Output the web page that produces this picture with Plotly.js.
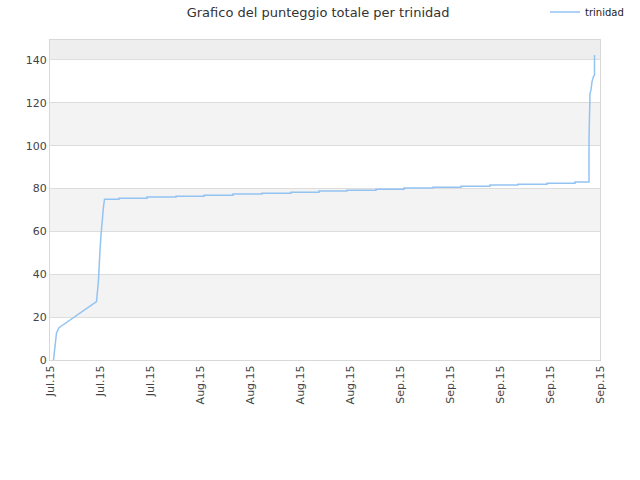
<!DOCTYPE html>
<html>
<head>
<meta charset="utf-8">
<script src="https://cdn.plot.ly/plotly-3.0.1.min.js"></script>
<style>
  html, body { margin: 0; padding: 0; background: #fff; }
  #chart { width: 640px; height: 480px; }
</style>
</head>
<body>
<div id="chart"></div>
<script>
// tick labels along the x axis (one every position 0..11)
const tickLabels = ['Jul.15', 'Jul.15', 'Jul.15', 'Aug.15', 'Aug.15', 'Aug.15', 'Aug.15',
                    'Sep.15', 'Sep.15', 'Sep.15', 'Sep.15', 'Sep.15'];

// score series, x is position on the tick scale
const scoreX = [0.07, 0.10, 0.13, 0.18, 0.93, 0.97, 0.98, 1.00, 1.02, 1.04, 1.07, 1.09,
                1.38, 1.38, 1.94, 1.94, 2.52, 2.52, 3.08, 3.08, 3.66, 3.66, 4.24, 4.24, 4.82, 4.82,
                5.38, 5.38, 5.94, 5.94, 6.52, 6.52, 7.08, 7.08, 7.66, 7.66, 8.22, 8.22, 8.80, 8.80,
                9.36, 9.36, 9.94, 9.94, 10.50, 10.50, 10.78, 10.78, 10.80, 10.82, 10.84, 10.87, 10.89, 10.89];
const scoreY = [0, 7.8, 12.6, 15.1, 27.2, 37.3, 44.3, 51.3, 58.3, 64.5, 71.5, 75.0,
                75.0, 75.5, 75.5, 76.0, 76.0, 76.4, 76.4, 76.9, 76.9, 77.4, 77.4, 77.8, 77.8, 78.3,
                78.3, 78.8, 78.8, 79.2, 79.2, 79.7, 79.7, 80.2, 80.2, 80.6, 80.6, 81.1, 81.1, 81.6,
                81.6, 82.0, 82.0, 82.5, 82.5, 83.0, 83.0, 102.7, 124.4, 126.0, 129.9, 132.2, 133.0, 142.3];

// alternating background bands [from, to]
const bandEdges = [[20, 40], [60, 80], [100, 120], [140, 149.3]];
const bandColours = ['#f3f3f3', '#f3f3f3', '#f3f3f3', '#eeeeee'];

const shapes = bandEdges.map((b, i) => ({
  type: 'rect', xref: 'paper', yref: 'y', x0: 0, x1: 1, y0: b[0], y1: b[1],
  fillcolor: bandColours[i], line: { width: 0 }, layer: 'below'
}));

const data = [{
  type: 'scatter',
  mode: 'lines',
  name: 'trinidad',
  x: scoreX,
  y: scoreY,
  line: { color: '#93c3f2', width: 1.5 }
}];

const layout = {
  width: 640,
  height: 480,
  margin: { l: 50, r: 40, t: 40, b: 120, autoexpand: false },
  paper_bgcolor: '#ffffff',
  plot_bgcolor: '#ffffff',
  font: { family: 'DejaVu Sans, sans-serif', size: 11, color: '#444' },
  title: {
    text: 'Grafico del punteggio totale per trinidad',
    font: { size: 13, color: '#333' },
    x: 0.497, xanchor: 'center', y: 0.975, yanchor: 'middle'
  },
  showlegend: true,
  legend: {
    x: 0.9, xanchor: 'left', y: 1.0875, yanchor: 'middle',
    bgcolor: 'rgba(0,0,0,0)', font: { size: 10, color: '#222' }
  },
  xaxis: {
    range: [0, 11],
    tickmode: 'array',
    tickvals: tickLabels.map((t, i) => i),
    ticktext: tickLabels,
    tickangle: -90,
    showgrid: false,
    zeroline: false,
    showline: true, mirror: true, linecolor: '#d8d8d8', linewidth: 1,
    ticks: '', tickfont: { size: 11, color: '#444' }
  },
  yaxis: {
    range: [0, 149.3],
    tickvals: [0, 20, 40, 60, 80, 100, 120, 140],
    showgrid: true, gridcolor: '#dddddd', gridwidth: 1,
    zeroline: false,
    showline: true, mirror: true, linecolor: '#d8d8d8', linewidth: 1,
    ticks: '', tickfont: { size: 11, color: '#444' }
  },
  shapes: shapes
};

Plotly.newPlot('chart', data, layout, { displayModeBar: false, staticPlot: true });
</script>
</body>
</html>
